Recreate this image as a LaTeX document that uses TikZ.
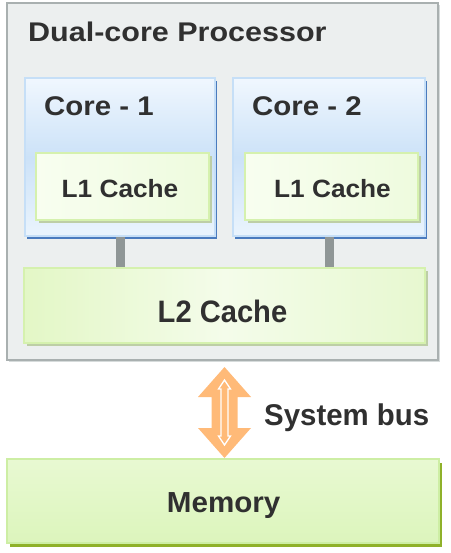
\documentclass[tikz,border=0pt]{standalone}
\usepackage{fontspec}
\setmainfont{Liberation Sans}
\usepackage{graphicx}
\usetikzlibrary{shadows,calc}
\definecolor{txtc}{HTML}{303030}
\definecolor{procfill}{HTML}{ECEFEF}
\definecolor{procdraw}{HTML}{A9B0B0}
\definecolor{procsh}{HTML}{D6DBDB}
\definecolor{coretop}{HTML}{F0F7FE}
\definecolor{coremid}{HTML}{CCE2F8}
\definecolor{corebot}{HTML}{EAF4FD}
\definecolor{coredraw}{HTML}{C6DFF7}
\definecolor{coresh}{HTML}{4A7BBE}
\definecolor{lonedraw}{HTML}{D5F1AE}
\definecolor{lonesh}{HTML}{BDCEA6}
\definecolor{gA}{HTML}{F8FEF0}
\definecolor{gB}{HTML}{EEFBDE}
\definecolor{gC}{HTML}{E3F7C6}
\definecolor{gD}{HTML}{F4FCEA}
\definecolor{gE}{HTML}{E7F8D0}
\definecolor{memtop}{HTML}{E8F9D2}
\definecolor{membot}{HTML}{DCF5BC}
\definecolor{memdraw}{HTML}{CDEEA4}
\definecolor{memsh}{HTML}{8FB12A}
\definecolor{connc}{HTML}{8F9696}
\definecolor{arrowc}{HTML}{FFBA78}
\newcommand\dtxt[3]{\scalebox{#2}[1]{\fontsize{#1}{#1}\selectfont\bfseries #3}}
\begin{document}
\begin{tikzpicture}[x=1pt,y=-1pt,
  box/.style={rectangle, inner sep=0pt, outer sep=0pt},
  procbox/.style={box, fill=procfill, draw=procdraw, line width=2pt,
    drop shadow={shadow xshift=2pt, shadow yshift=-2pt, fill=procsh, opacity=1}},
  corebox/.style={box, top color=coretop, bottom color=corebot, middle color=coremid,
    draw=coredraw, line width=1.5pt,
    drop shadow={shadow xshift=2pt, shadow yshift=-3pt, fill=coresh, opacity=1}},
  lonebox/.style={box, left color=gA, right color=gB, draw=lonedraw, line width=1.5pt,
    drop shadow={shadow xshift=3pt, shadow yshift=-3pt, fill=lonesh, opacity=1}},
  ltwobox/.style={box, left color=gC, right color=gE, middle color=gD, draw=lonedraw, line width=1.5pt,
    drop shadow={shadow xshift=3pt, shadow yshift=-3pt, fill=lonesh, opacity=1}},
  membox/.style={box, top color=memtop, bottom color=membot, draw=memdraw, line width=1.5pt,
    drop shadow={shadow xshift=3pt, shadow yshift=-4pt, fill=memsh, opacity=1}},
  lbl/.style={inner sep=0pt, text=txtc},
  conn/.style={draw=connc, line width=9pt},
  busarrow/.style={fill=arrowc},
  businner/.style={draw=white, line width=1.3pt, fill=arrowc, line join=miter}
]
\useasboundingbox (0,0) rectangle (450,553);

% processor
\node[procbox, minimum width=431pt, minimum height=357pt] (proc) at (222.5,181.5) {};
\node[lbl, anchor=base west] (proct) at (28,41.5) {\dtxt{27pt}{1.13}{Dual-core Processor}};

% cores
\node[corebox, minimum width=190pt, minimum height=158pt] (core1) at (120,157) {};
\node[corebox, minimum width=192pt, minimum height=158pt] (core2) at (329,157) {};
\node[lbl, anchor=base west] (core1t) at (44,116) {\dtxt{27pt}{1.09}{Core - 1}};
\node[lbl, anchor=base west] (core2t) at (252,116) {\dtxt{27pt}{1.09}{Core - 2}};

% L1 caches
\node[lonebox, minimum width=173pt, minimum height=67pt] (l1a) at (122.5,186.5) {};
\node[lonebox, minimum width=173pt, minimum height=67pt] (l1b) at (331.5,186.5) {};
\node[lbl, anchor=base] (l1at) at (120,197.3) {\dtxt{25pt}{1.05}{L1 Cache}};
\node[lbl, anchor=base] (l1bt) at (332.5,197.3) {\dtxt{25pt}{1.05}{L1 Cache}};

% L2 cache
\node[ltwobox, minimum width=401pt, minimum height=75pt] (l2) at (224.5,305.5) {};
\node[lbl, anchor=base] (l2t) at (222.5,322.3) {\dtxt{31pt}{0.94}{L2 Cache}};

% connectors core -> L2
\draw[conn] ([yshift=-1pt]core1.south) -- ([yshift=1pt]core1.south |- l2.north);
\draw[conn] ([yshift=-1pt]core2.south) -- ([yshift=1pt]core2.south |- l2.north);

% memory
\node[membox, minimum width=432pt, minimum height=84pt] (mem) at (223,501) {};
\node[lbl, anchor=base] (memt) at (223.7,512.3) {\dtxt{29pt}{1.02}{Memory}};

% system bus arrow
\coordinate (bt) at (224.5,367);
\coordinate (bb) at (224.5,458);
\fill[busarrow] (bt) -- ++(26.5,30) -- ++(-13.5,0) -- ++(0,31) -- ++(13.5,0) -- (bb)
  -- ++(-26.5,-30) -- ++(13.5,0) -- ++(0,-31) -- ++(-13.5,0) -- cycle;
\draw[businner] ($(bt)+(0,13)$) -- ++(6,9) -- ++(-2.5,0) -- ++(0,47) -- ++(2.5,0) -- ($(bb)+(0,-13)$)
  -- ++(-6,-9) -- ++(2.5,0) -- ++(0,-47) -- ++(-2.5,0) -- cycle;
\node[lbl, anchor=base west] (bust) at (264,425.7) {\dtxt{30pt}{0.98}{System bus}};
\end{tikzpicture}
\end{document}
